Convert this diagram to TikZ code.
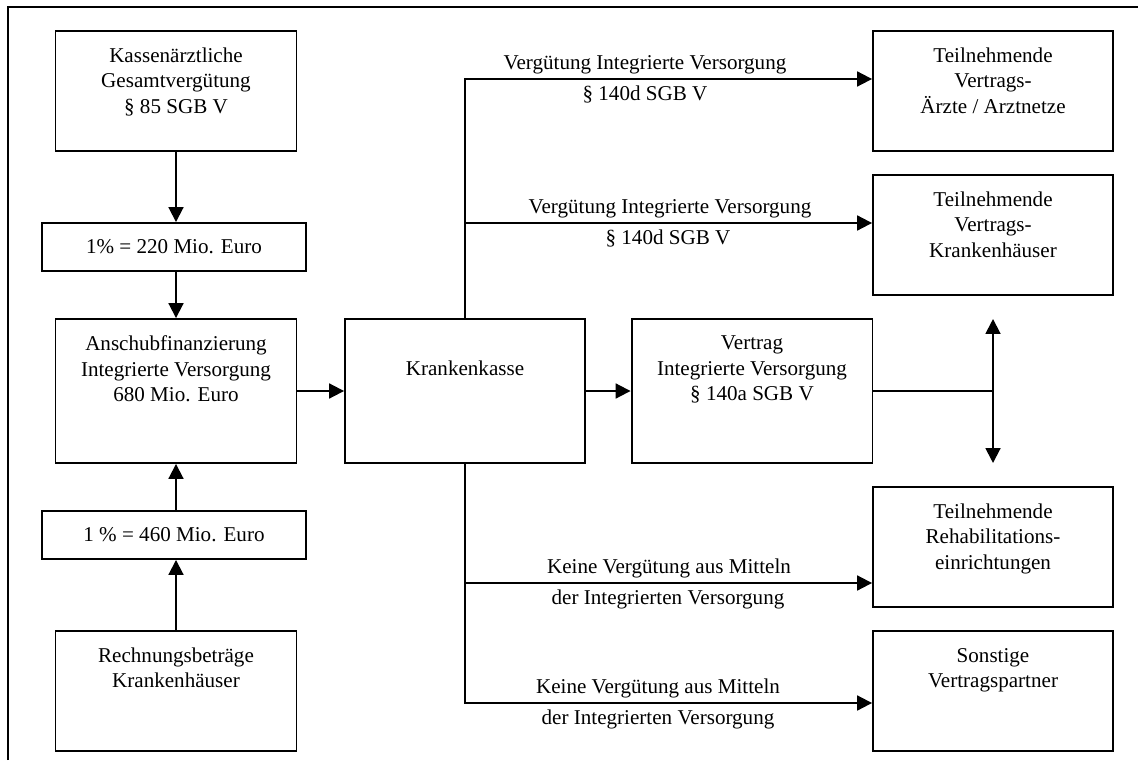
\documentclass[tikz,border=0pt]{standalone}
\usepackage{fontspec}
\setmainfont{Liberation Serif}
\usetikzlibrary{arrows.meta}

\begin{document}
\begin{tikzpicture}[x=0.02cm,y=-0.02cm,line width=1.1pt,
    >={Triangle[length=8.5pt,width=8.5pt]},
    font=\fontsize{12}{14.4}\selectfont,
    box/.style={draw,rectangle,minimum width=4.82cm,minimum height=2.4cm,inner sep=0pt},
    boxtext/.style={anchor=north,align=center,inner sep=0pt,yshift=-9.7pt},
    lab/.style={anchor=base}]
    \useasboundingbox (0,0) rectangle (1138,760);
    \draw (8,760) |- (1138,7);
    \node[box,label={[boxtext]north:Kassenärztliche\\Gesamtvergütung\\§ 85 SGB V}] (kass) at (176,91) {};
    \node[box,minimum width=5.28cm,minimum height=0.96cm] (pct220) at (174,247) {1\% = 220 Mio. Euro};
    \node[box,minimum height=2.88cm,label={[boxtext]north:Anschubfinanzierung\\Integrierte Versorgung\\680 Mio. Euro}] (anschub) at (176,391) {};
    \node[box,minimum width=5.28cm,minimum height=0.96cm] (pct460) at (174,535) {1 \% = 460 Mio. Euro};
    \node[box,label={[boxtext]north:Rechnungsbeträge\\Krankenhäuser}] (rechnung) at (176,691) {};
    \node[box,minimum width=4.8cm,minimum height=2.88cm,label={[boxtext,yshift=-14.4pt]north:Krankenkasse}] (kkasse) at (465,391) {};
    \node[box,minimum height=2.88cm,label={[boxtext]north:Vertrag\\Integrierte Versorgung\\§ 140a SGB V}] (vertrag) at (752,391) {};
    \node[box,minimum width=4.8cm,label={[boxtext]north:Teilnehmende\\Vertrags-\\Ärzte / Arztnetze}] (aerzte) at (993,91) {};
    \node[box,minimum width=4.8cm,label={[boxtext]north:Teilnehmende\\Vertrags-\\Krankenhäuser}] (khaus) at (993,235) {};
    \node[box,minimum width=4.8cm,label={[boxtext]north:Teilnehmende\\Rehabilitations-\\einrichtungen}] (reha) at (993,547) {};
    \node[box,minimum width=4.8cm,label={[boxtext]north:Sonstige\\Vertragspartner}] (sonst) at (993,691) {};
    \node[lab] (verg1) at (645,69.5) {Vergütung Integrierte Versorgung};
    \node[lab] (para1) at (645,100.5) {§ 140d SGB V};
    \node[lab] (verg2) at (670,213.5) {Vergütung Integrierte Versorgung};
    \node[lab] (para2) at (668,244.5) {§ 140d SGB V};
    \node[lab] (keine1) at (669,573.5) {Keine Vergütung aus Mitteln};
    \node[lab] (mittel1) at (668,604.5) {der Integrierten Versorgung};
    \node[lab] (keine2) at (658,693.5) {Keine Vergütung aus Mitteln};
    \node[lab] (mittel2) at (658,724.5) {der Integrierten Versorgung};
    \coordinate (up) at (993,319);
    \coordinate (dn) at (993,463);
    \draw [->](kass.south)--(kass.south |- pct220.north);
    \draw [->](pct220.south -| kass)--(anschub);
    \draw [->](rechnung)--(pct460.south -| rechnung);
    \draw [->](pct460.north -| anschub)--(anschub);
    \draw [->](anschub)--(kkasse);
    \draw [->](kkasse)--(vertrag);
    \draw [->](kkasse.north) |- (aerzte.west |- 0,79);
    \draw [->](kkasse.north |- 0,223)--(khaus.west |- 0,223);
    \draw [->](kkasse.south) |- (sonst.west |- 0,703);
    \draw [->](kkasse.south |- 0,583)--(reha.west |- 0,583);
    \draw [<->](up)--(dn);
    \draw (vertrag.east)--(vertrag.east -| up);
\end{tikzpicture}
\end{document}
